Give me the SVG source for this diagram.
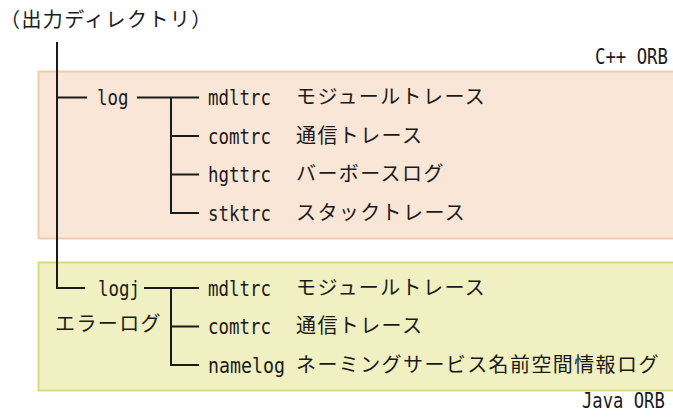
<svg xmlns="http://www.w3.org/2000/svg" width="673" height="419" viewBox="0 0 673 419">
<style>
.lat{font-family:"DejaVu Sans Mono","Liberation Mono",monospace;font-size:21.5px;fill:#1a1a1a}
.jp{font-family:"Noto Sans CJK JP",sans-serif;font-size:20px;letter-spacing:1.4px;fill:#1a1a1a}
.ln{stroke:#1a1a1a;stroke-width:2;fill:none}
</style>
<rect width="673" height="419" fill="#ffffff"/>
<g id="cpp-area">
<rect x="38.5" y="71.5" width="640" height="167" fill="#f9e6d6" stroke="#f0cbb0" stroke-width="2"/>
<text class="lat" transform="translate(595 64) scale(0.805 1)" x="0" y="0">C++ ORB</text>
</g>
<g id="java-area">
<rect x="38.5" y="262.5" width="640" height="128" fill="#f0f0c2" stroke="#d9db80" stroke-width="2"/>
<text class="lat" transform="translate(582 408) scale(0.8 1)" x="0" y="0">Java ORB</text>
</g>
<g id="connectors">
<path class="ln" d="M57 42 V288 H85"/>
<path class="ln" d="M57 97.5 H87"/>
<path class="ln" d="M137 97.5 H199"/>
<path class="ln" d="M171 97.5 V213 H199 M171 136 H199 M171 174.5 H199"/>
<path class="ln" d="M144 288 H199"/>
<path class="ln" d="M171 288 V365 H199 M171 326.5 H199"/>
</g>
<g id="root">
<text class="jp" x="0" y="27">（出力ディレクトリ）</text>
</g>
<g id="log">
<text class="lat" x="97" y="105" textLength="31.5" lengthAdjust="spacingAndGlyphs">log</text>
</g>
<g id="cpp-mdltrc">
<text class="lat" x="208" y="105" textLength="63" lengthAdjust="spacingAndGlyphs">mdltrc</text>
<text class="jp" x="296" y="104">モジュールトレース</text>
</g>
<g id="cpp-comtrc">
<text class="lat" x="208" y="143.5" textLength="63" lengthAdjust="spacingAndGlyphs">comtrc</text>
<text class="jp" x="296" y="142.5">通信トレース</text>
</g>
<g id="cpp-hgttrc">
<text class="lat" x="208" y="182" textLength="63" lengthAdjust="spacingAndGlyphs">hgttrc</text>
<text class="jp" x="296" y="181">バーボースログ</text>
</g>
<g id="cpp-stktrc">
<text class="lat" x="208" y="220.5" textLength="63" lengthAdjust="spacingAndGlyphs">stktrc</text>
<text class="jp" x="296" y="219.5">スタックトレース</text>
</g>
<g id="logj">
<text class="lat" x="98" y="295.5" textLength="42" lengthAdjust="spacingAndGlyphs">logj</text>
<text class="jp" x="55" y="331">エラーログ</text>
</g>
<g id="java-mdltrc">
<text class="lat" x="208" y="295.5" textLength="63" lengthAdjust="spacingAndGlyphs">mdltrc</text>
<text class="jp" x="296" y="294.5">モジュールトレース</text>
</g>
<g id="java-comtrc">
<text class="lat" x="208" y="334" textLength="63" lengthAdjust="spacingAndGlyphs">comtrc</text>
<text class="jp" x="296" y="333">通信トレース</text>
</g>
<g id="java-namelog">
<text class="lat" x="208" y="372.5" textLength="77" lengthAdjust="spacingAndGlyphs">namelog</text>
<text class="jp" x="296" y="371.5">ネーミングサービス名前空間情報ログ</text>
</g>
</svg>
